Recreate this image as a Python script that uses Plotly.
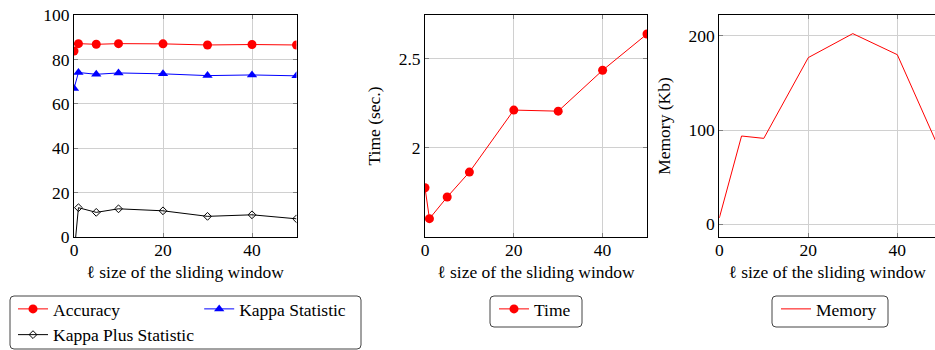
import plotly.graph_objects as go

# ---------------- data ----------------
window = [0, 1, 5, 10, 20, 30, 40, 50]
accuracy = [83.8, 87.1, 86.8, 87.1, 87.0, 86.5, 86.7, 86.5]
kappa = [66.9, 74.1, 73.3, 73.9, 73.5, 72.7, 73.0, 72.6]
kappa_plus = [-8.0, 13.2, 11.1, 12.7, 11.8, 9.3, 10.0, 8.2]
time_sec = [1.775, 1.601, 1.723, 1.863, 2.212, 2.206, 2.436, 2.640]
memory_window = [0, 5, 10, 20, 30, 40, 50]
memory_kb = [6.4, 93.6, 91.1, 177.0, 202.5, 180.1, 73.7]

x_ticks = [0, 20, 40]
y1_ticks = [0, 20, 40, 60, 80, 100]
y2_ticks = [2, 2.5]
y2_ticktext = ["2", "2.5"]
y3_ticks = [0, 100, 200]

x_title = "ℓ size of the sliding window"
y2_title = "Time (sec.)"
y3_title = "Memory (Kb)"

# ---------------- layout helpers ----------------
W, H = 935, 350
FONT = "Liberation Serif"
FS = 17.5
RED = "#ff0000"
BLUE = "#0000ff"


def px_x(p):
    return p / W


def px_y(p):
    return 1 - p / H


def rounded_box(x0, y0, x1, y1, r=4):
    rx, ry = r / W, r / H
    X0, X1 = px_x(x0), px_x(x1)
    Yt, Yb = px_y(y0), px_y(y1)
    path = (f"M {X0+rx},{Yt} L {X1-rx},{Yt} Q {X1},{Yt} {X1},{Yt-ry} "
            f"L {X1},{Yb+ry} Q {X1},{Yb} {X1-rx},{Yb} L {X0+rx},{Yb} "
            f"Q {X0},{Yb} {X0},{Yb+ry} L {X0},{Yt-ry} Q {X0},{Yt} {X0+rx},{Yt} Z")
    return dict(type="path", xref="paper", yref="paper", path=path,
                line=dict(color="#444444", width=1), fillcolor="rgba(0,0,0,0)",
                layer="above")


fig = go.Figure()

# Panel 1
fig.add_trace(go.Scatter(x=window, y=accuracy, name="Accuracy", mode="lines+markers",
                         line=dict(color=RED, width=1), marker=dict(symbol="circle", size=9, color=RED),
                         xaxis="x", yaxis="y", legend="legend", legendgroup="g1"))
fig.add_trace(go.Scatter(x=window, y=kappa, name="Kappa Statistic", mode="lines+markers",
                         line=dict(color=BLUE, width=1), marker=dict(symbol="triangle-up", size=9, color=BLUE),
                         xaxis="x", yaxis="y", legend="legend", legendgroup="g2"))
fig.add_trace(go.Scatter(x=window, y=kappa_plus, name="Kappa Plus Statistic", mode="lines+markers",
                         line=dict(color="black", width=1),
                         marker=dict(symbol="diamond-open", size=6, color="black", line=dict(width=1)),
                         xaxis="x", yaxis="y", legend="legend", legendgroup="g1"))
# Panel 2
fig.add_trace(go.Scatter(x=window, y=time_sec, name="Time", mode="lines+markers",
                         line=dict(color=RED, width=1), marker=dict(symbol="circle", size=9, color=RED),
                         xaxis="x2", yaxis="y2", legend="legend2"))
# Panel 3
fig.add_trace(go.Scatter(x=memory_window, y=memory_kb, name="Memory", mode="lines",
                         line=dict(color=RED, width=1),
                         xaxis="x3", yaxis="y3", legend="legend3"))

ydom = [px_y(237), px_y(15)]
common = dict(showline=True, linecolor="black", linewidth=1, ticks="inside", ticklen=4,
              tickcolor="#808080", showgrid=True, gridcolor="#d0d0d0", gridwidth=1,
              zeroline=False, automargin=False,
              tickfont=dict(family=FONT, size=FS, color="black"),
              title_font=dict(family=FONT, size=FS, color="black"))
xcommon = dict(common, ticklabelstandoff=-3)

fig.update_layout(
    width=W, height=H, margin=dict(l=0, r=0, t=0, b=0, autoexpand=False),
    paper_bgcolor="white", plot_bgcolor="white",
    font=dict(family=FONT, size=FS, color="black"),
    xaxis=dict(domain=[px_x(74), px_x(296.5)], range=[0, 50], tickvals=x_ticks, anchor="y",
               mirror="ticks", title=dict(text=x_title, standoff=6), **xcommon),
    yaxis=dict(domain=ydom, range=[0, 100], tickvals=y1_ticks, anchor="x", mirror="ticks", **common),
    xaxis2=dict(domain=[px_x(425), px_x(647)], range=[0, 50], tickvals=x_ticks, anchor="y2",
                mirror="ticks", title=dict(text=x_title, standoff=6), **xcommon),
    yaxis2=dict(domain=ydom, range=[1.498, 2.747], tickvals=y2_ticks, ticktext=y2_ticktext,
                anchor="x2", mirror="ticks", title=dict(text=y2_title, standoff=13), **common),
    xaxis3=dict(domain=[px_x(719.3), 1], range=[0, 48.47], tickvals=x_ticks, anchor="y3",
                mirror="ticks", title=dict(text=x_title, standoff=6), **xcommon),
    yaxis3=dict(domain=ydom, range=[-13.8, 222.3], tickvals=y3_ticks, anchor="x3", mirror=False,
                title=dict(text=y3_title, standoff=13), **common),
    legend=dict(orientation="h", traceorder="grouped", tracegroupgap=6,
                x=px_x(13), y=px_y(291), xanchor="left", yanchor="top",
                bgcolor="rgba(0,0,0,0)", borderwidth=0, font=dict(family=FONT, size=FS),
                itemwidth=30),
    legend2=dict(orientation="h", x=px_x(494), y=px_y(291), xanchor="left", yanchor="top",
                 bgcolor="rgba(0,0,0,0)", borderwidth=0, font=dict(family=FONT, size=FS)),
    legend3=dict(orientation="h", x=px_x(776), y=px_y(291), xanchor="left", yanchor="top",
                 bgcolor="rgba(0,0,0,0)", borderwidth=0, font=dict(family=FONT, size=FS)),
    shapes=[rounded_box(10, 296, 361, 349), rounded_box(490, 296, 582, 327),
            rounded_box(772, 296, 888, 327)],
    showlegend=True,
)

fig.write_html("out.html")
